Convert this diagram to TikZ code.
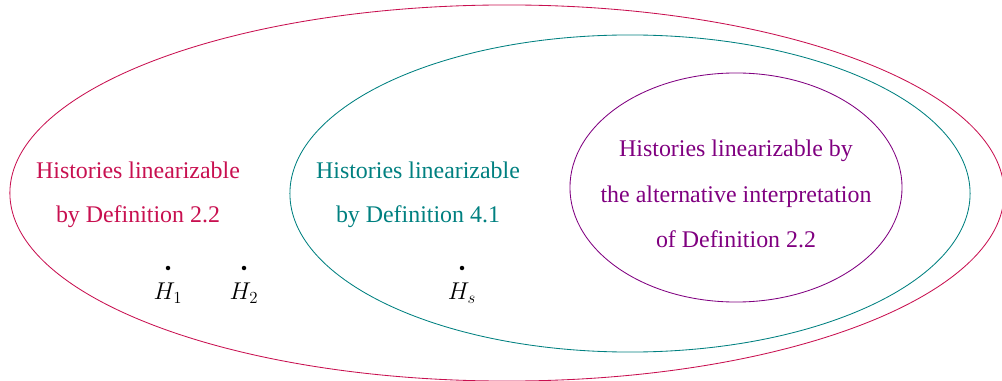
\documentclass[tikz,border=0pt]{standalone}
\usepackage{fontspec}
\setmainfont{Liberation Serif}
\usetikzlibrary{shapes.geometric, positioning}
\definecolor{crimson}{RGB}{200, 16, 80}
\definecolor{tealset}{RGB}{0, 128, 128}
\definecolor{plum}{RGB}{128, 0, 128}

\begin{document}
\begin{tikzpicture}[
            x=0.025cm, y=-0.025cm,
            set/.style={draw=#1, ellipse, line width=0.6pt, inner sep=0pt},
            settext/.style={text=#1, align=center, font=\fontsize{17}{31}\selectfont},
            hist/.style={circle, fill=black, inner sep=0pt, minimum size=3.2pt},
            histname/.style={font=\fontsize{16.5}{20}\selectfont, inner sep=0pt}
        ]
            \useasboundingbox (0,0) rectangle (1002,381);

            % the three sets
            \node[set=crimson, minimum width=24.85cm, minimum height=9.4cm] (def22) at (507,193) {};
            \node[set=tealset, minimum width=17cm, minimum height=7.925cm] (def41) at (630,193.5) {};
            \node[set=plum, minimum width=8.3cm, minimum height=5.725cm] (alt22) at (736,187.5) {};

            \node[settext=crimson] (def22text) at (138,195) {Histories linearizable\\by Definition 2.2};
            \node[settext=tealset] (def41text) at (418,195) {Histories linearizable\\by Definition 4.1};
            \node[settext=plum, font=\fontsize{17}{32.5}\selectfont] (alt22text) at (736,194) {Histories linearizable by\\the alternative interpretation\\of Definition 2.2};

            % histories
            \node[hist] (h1) at (168,268) {};
            \node[hist] (h2) at (244,268) {};
            \node[hist] (hs) at (462,268) {};
            \node[histname, below=0.3cm of h1] (h1name) {$H_1$};
            \node[histname, below=0.3cm of h2] (h2name) {$H_2$};
            \node[histname, below=0.3cm of hs] (hsname) {$H_s$};
        \end{tikzpicture}
\end{document}
